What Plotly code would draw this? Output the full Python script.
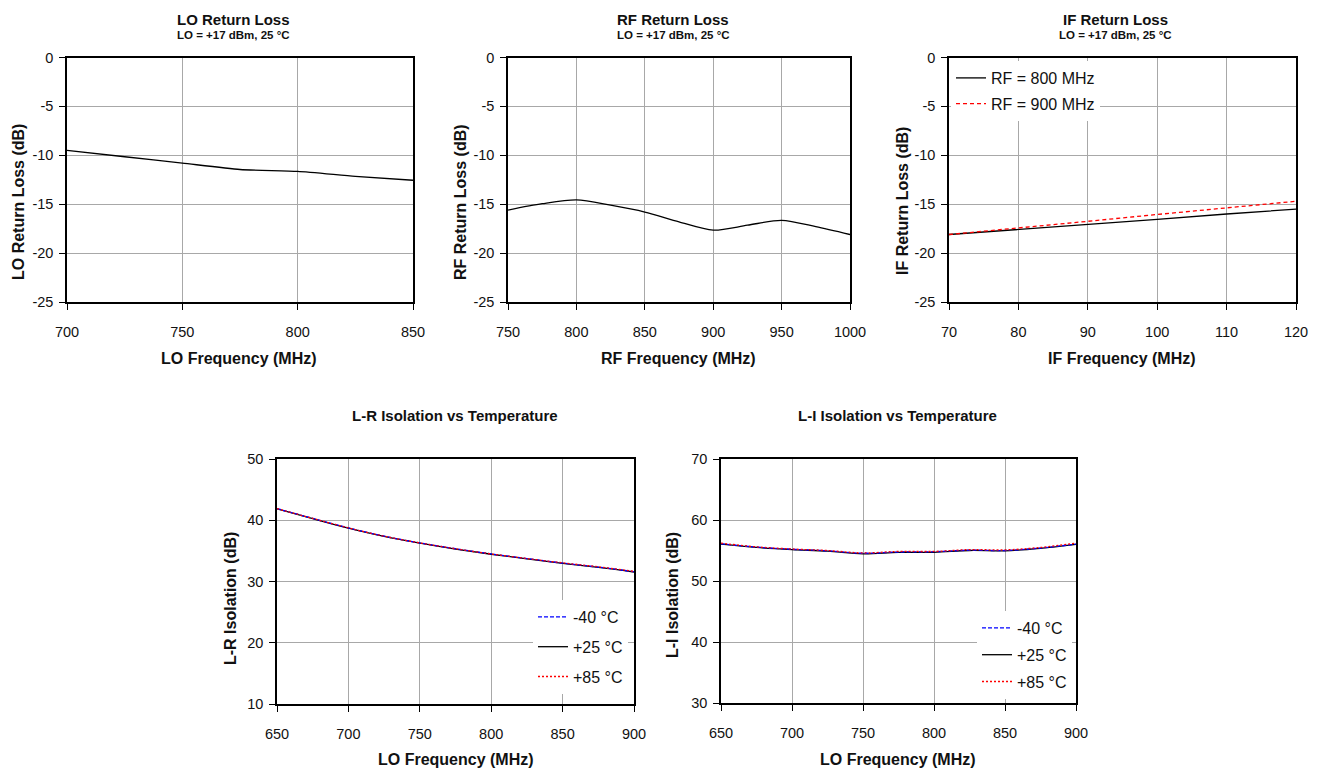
import plotly.graph_objects as go

# page is 1318x773; the browser body adds an 8px margin at top/left of the figure
PAGE_W, PAGE_H = 1318, 773
OFF = 8
W, H = PAGE_W - OFF, PAGE_H - OFF
FONT = "Liberation Sans, Arial, sans-serif"

# ---- data ----
lo_rl_freq = [700, 725, 750, 775, 800, 825, 850]
lo_rl = [-9.5, -10.15, -10.8, -11.45, -11.65, -12.15, -12.55]

rf_rl_freq = [750, 775, 800, 825, 850, 875, 900, 925, 950, 975, 1000]
rf_rl = [-15.6, -14.95, -14.55, -15.1, -15.8, -16.8, -17.65, -17.15, -16.65, -17.3, -18.1]

if_freq = [70, 80, 90, 100, 110, 120]
if_rl_800 = [-18.1, -17.6, -17.1, -16.55, -16.0, -15.5]
if_rl_900 = [-18.1, -17.45, -16.75, -16.05, -15.35, -14.7]

iso_freq = [650, 675, 700, 725, 750, 775, 800, 825, 850, 875, 900]
lr_m40 = [41.9, 40.3, 38.75, 37.4, 36.3, 35.35, 34.5, 33.75, 33.0, 32.35, 31.6]
lr_p25 = [41.85, 40.25, 38.7, 37.35, 36.25, 35.3, 34.45, 33.7, 32.95, 32.3, 31.55]
lr_p85 = [41.9, 40.3, 38.75, 37.4, 36.3, 35.35, 34.5, 33.75, 33.05, 32.4, 31.65]

li_m40 = [56.1, 55.55, 55.2, 54.95, 54.55, 54.75, 54.8, 55.05, 55.0, 55.4, 56.05]
li_p25 = [56.05, 55.5, 55.15, 54.9, 54.45, 54.7, 54.7, 55.0, 54.95, 55.35, 56.0]
li_p85 = [56.2, 55.6, 55.25, 55.0, 54.6, 54.85, 54.85, 55.15, 55.1, 55.5, 56.2]

# tick values / labels
rl_ticks = [0, -5, -10, -15, -20, -25]
rl_labels = ["0", "-5", "-10", "-15", "-20", "-25"]
lr_ticks = [10, 20, 30, 40, 50]
li_ticks = [30, 40, 50, 60, 70]

# ---- helpers (page pixels -> paper fraction) ----
def px_x(p):
    return (p - OFF) / W

def px_y(p):
    return 1 - (p - OFF) / H

fig = go.Figure()

domains = {
    1: ((67, 413), (57.5, 302)),
    2: ((508, 850), (57.5, 302)),
    3: ((949, 1296), (57.5, 302)),
    4: ((277, 634), (459, 704)),
    5: ((721, 1076), (459, 703)),
}
xranges = {1: [700, 850], 2: [750, 1000], 3: [70, 120], 4: [650, 900], 5: [650, 900]}
xdt = {1: 50, 2: 50, 3: 10, 4: 50, 5: 50}
yranges = {1: [-25, 0], 2: [-25, 0], 3: [-25, 0], 4: [10, 50], 5: [30, 70]}
yticks = {1: (rl_ticks, rl_labels), 2: (rl_ticks, rl_labels), 3: (rl_ticks, rl_labels),
          4: (lr_ticks, [str(v) for v in lr_ticks]), 5: (li_ticks, [str(v) for v in li_ticks])}

tickfont = dict(family=FONT, size=14.5, color="#111111")
layout_axes = {}
for i, ((x0, x1), (y0, y1)) in domains.items():
    xa = "xaxis" if i == 1 else f"xaxis{i}"
    ya = "yaxis" if i == 1 else f"yaxis{i}"
    layout_axes[xa] = dict(
        domain=[px_x(x0), px_x(x1)], range=xranges[i], dtick=xdt[i], tick0=0,
        anchor="y" if i == 1 else f"y{i}", automargin=False,
        showline=True, linecolor="black", linewidth=1.5, mirror=True,
        showgrid=True, gridcolor="#a8a8a8", gridwidth=1,
        ticks="outside", ticklen=6, tickcolor="black", tickwidth=1,
        ticklabelstandoff=10, tickfont=tickfont, zeroline=False, fixedrange=True,
    )
    layout_axes[ya] = dict(
        domain=[px_y(y1), px_y(y0)], range=yranges[i],
        tickmode="array", tickvals=yticks[i][0], ticktext=yticks[i][1],
        anchor="x" if i == 1 else f"x{i}", automargin=False,
        showline=True, linecolor="black", linewidth=1.5, mirror=True,
        showgrid=True, gridcolor="#a8a8a8", gridwidth=1,
        ticks="outside", ticklen=6, tickcolor="black", tickwidth=1,
        ticklabelstandoff=3, tickfont=tickfont, zeroline=False, fixedrange=True,
    )

def ax(i):
    return ("x" if i == 1 else f"x{i}", "y" if i == 1 else f"y{i}")

lw = 1.3
x, y = ax(1)
fig.add_trace(go.Scatter(x=lo_rl_freq, y=lo_rl, mode="lines", line=dict(color="black", width=lw, shape="spline", smoothing=0.6),
                         xaxis=x, yaxis=y, showlegend=False))
x, y = ax(2)
fig.add_trace(go.Scatter(x=rf_rl_freq, y=rf_rl, mode="lines", line=dict(color="black", width=lw, shape="spline", smoothing=0.8),
                         xaxis=x, yaxis=y, showlegend=False))
x, y = ax(3)
fig.add_trace(go.Scatter(x=if_freq, y=if_rl_800, mode="lines", name="RF = 800 MHz", line=dict(color="black", width=lw),
                         xaxis=x, yaxis=y, legend="legend", legendgroup="a"))
fig.add_trace(go.Scatter(x=if_freq, y=if_rl_900, mode="lines", name="RF = 900 MHz",
                         line=dict(color="#ff0000", width=lw, dash="4px,3px"),
                         xaxis=x, yaxis=y, legend="legend", legendgroup="b"))
x, y = ax(4)
fig.add_trace(go.Scatter(x=iso_freq, y=lr_p25, mode="lines", name="+25 °C", line=dict(color="black", width=lw, shape="spline"),
                         xaxis=x, yaxis=y, legend="legend2", legendrank=2, legendgroup="c"))
fig.add_trace(go.Scatter(x=iso_freq, y=lr_m40, mode="lines", name="-40 °C",
                         line=dict(color="#0000ff", width=lw, dash="4px,2px", shape="spline"),
                         xaxis=x, yaxis=y, legend="legend2", legendrank=1, legendgroup="d"))
fig.add_trace(go.Scatter(x=iso_freq, y=lr_p85, mode="lines", name="+85 °C",
                         line=dict(color="#ff0000", width=lw, dash="2px,2px", shape="spline"),
                         xaxis=x, yaxis=y, legend="legend2", legendrank=3, legendgroup="e"))
x, y = ax(5)
fig.add_trace(go.Scatter(x=iso_freq, y=li_p25, mode="lines", name="+25 °C", line=dict(color="black", width=lw, shape="spline"),
                         xaxis=x, yaxis=y, legend="legend3", legendrank=2, legendgroup="f"))
fig.add_trace(go.Scatter(x=iso_freq, y=li_m40, mode="lines", name="-40 °C",
                         line=dict(color="#0000ff", width=lw, dash="4px,2px", shape="spline"),
                         xaxis=x, yaxis=y, legend="legend3", legendrank=1, legendgroup="g"))
fig.add_trace(go.Scatter(x=iso_freq, y=li_p85, mode="lines", name="+85 °C",
                         line=dict(color="#ff0000", width=lw, dash="2px,2px", shape="spline"),
                         xaxis=x, yaxis=y, legend="legend3", legendrank=3, legendgroup="h"))

legfont = dict(family=FONT, size=16, color="#111111")
def leg(xp, yp, gap):
    return dict(x=px_x(xp), y=px_y(yp), xanchor="left", yanchor="top", xref="paper", yref="paper",
                bgcolor="white", borderwidth=0, font=legfont, tracegroupgap=gap, itemwidth=30)

annotations = []
def ann(text, xp, yp, size, bold=True, angle=0, yanchor="middle"):
    annotations.append(dict(text=f"<b>{text}</b>" if bold else text, x=px_x(xp), y=px_y(yp),
                            xref="paper", yref="paper", xanchor="center", yanchor=yanchor,
                            showarrow=False, textangle=angle,
                            font=dict(family=FONT, size=size, color="#111111")))

ann("LO Return Loss", 233, 8.5, 15, yanchor="top")
ann("LO = +17 dBm, 25 °C", 233, 35, 11.5)
ann("RF Return Loss", 673, 8.5, 15, yanchor="top")
ann("LO = +17 dBm, 25 °C", 673, 35, 11.5)
ann("IF Return Loss", 1115, 8.5, 15, yanchor="top")
ann("LO = +17 dBm, 25 °C", 1115, 35, 11.5)
ann("L-R Isolation vs Temperature", 455, 415, 15)
ann("L-I Isolation vs Temperature", 897, 415, 15)

ann("LO Frequency (MHz)", 239, 359, 16)
ann("RF Frequency (MHz)", 678, 359, 16)
ann("IF Frequency (MHz)", 1122, 359, 16)
ann("LO Frequency (MHz)", 456, 759, 16)
ann("LO Frequency (MHz)", 898, 759, 16)

ann("LO Return Loss (dB)", 18, 202, 16, angle=-90)
ann("RF Return Loss (dB)", 460, 202, 16, angle=-90)
ann("IF Return Loss (dB)", 902, 201, 16, angle=-90)
ann("L-R Isolation (dB)", 230, 598, 16, angle=-90)
ann("L-I Isolation (dB)", 672, 595, 16, angle=-90)

fig.update_layout(
    width=W, height=H, margin=dict(l=0, r=0, t=0, b=0),
    paper_bgcolor="white", plot_bgcolor="white",
    legend=leg(951, 61, 2),
    legend2=leg(533, 600, 6),
    legend3=leg(977, 611, 3),
    annotations=annotations,
    **layout_axes,
)

fig.write_html("out.html")
